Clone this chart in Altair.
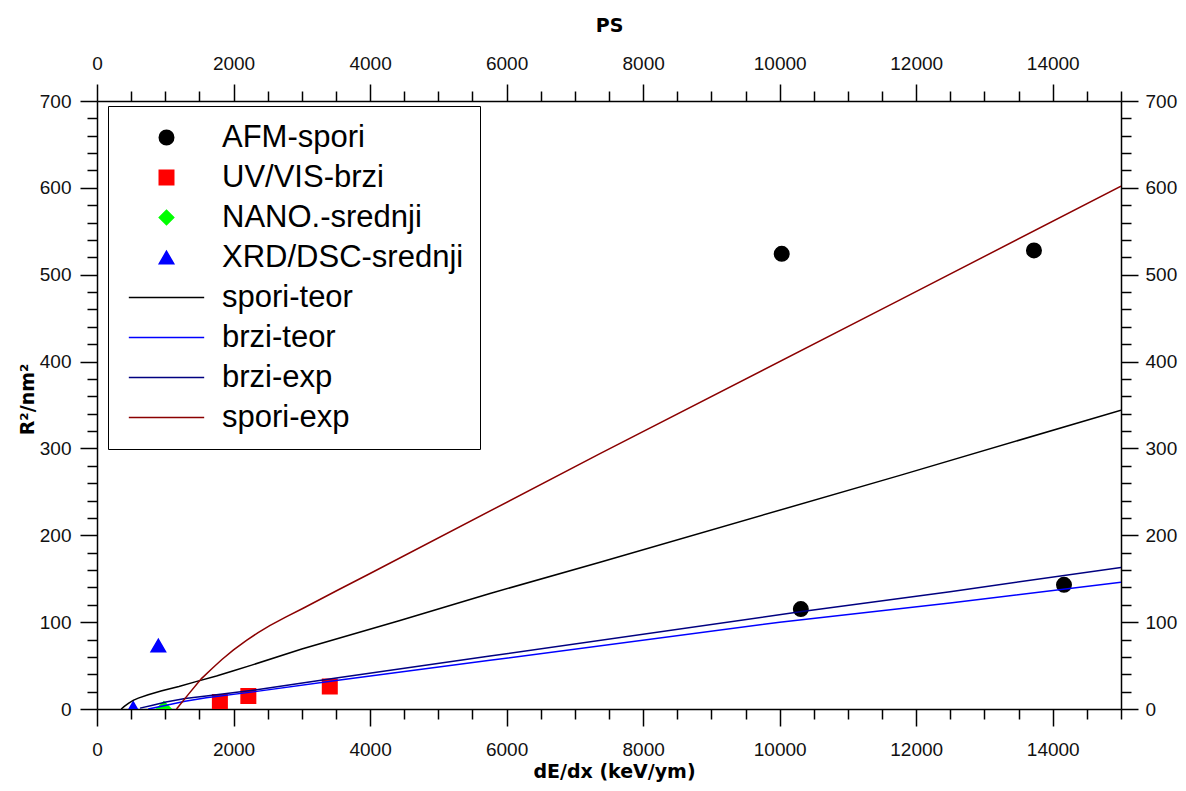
import altair as alt
import pandas as pd

# ---------------- data ----------------
series_names = ["AFM-spori", "UV/VIS-brzi", "NANO.-srednji", "XRD/DSC-srednji",
                "spori-teor", "brzi-teor", "brzi-exp", "spori-exp"]
series_colors = ["#000000", "#ff0000", "#00ff00", "#0000ff",
                 "#000000", "#0000ff", "#000080", "#8b0000"]
line_path = "M-5.2,0H5.2"
series_shapes = ["circle", "square", "diamond", "triangle-up",
                 line_path, line_path, line_path, line_path]

afm_x = [10030, 13725, 10310, 14165]
afm_y = [524, 528, 115, 143]
uv_x = [1800, 2217, 3410]
uv_y = [8, 15, 26]
nano_x = [980]
nano_y = [0]
xrd_x = [898, 530]
xrd_y = [73, 1]

spori_teor_x = [355, 400, 460, 530, 605, 750, 950, 1200, 1450, 1750, 2000, 2266,
                3000, 4438, 5757, 7368, 11762, 15000]
spori_teor_y = [0, 3, 6.5, 10, 12.5, 16.5, 21, 26, 31.5, 38, 44, 50.5,
                69, 102, 133, 169, 269, 344]

brzi_teor_x = [750, 1000, 1290, 1600, 2314, 3530, 5757, 10000, 12496, 15000]
brzi_teor_y = [0, 4, 9, 13, 20, 33, 56, 100, 122, 146]

brzi_exp_x = [630, 800, 1010, 1290, 1600, 2314, 3530, 5757, 10300, 12496, 15000]
brzi_exp_y = [1, 4, 8, 12, 15, 22, 36, 61, 112, 135, 163]

spori_exp_x = [1165, 1350, 1530, 1690, 1830, 2000, 2190, 2360, 2530, 2770, 3020,
               3530, 4000, 7368, 11762, 15000]
spori_exp_y = [0, 18, 35, 47, 57, 68, 79, 88, 96, 106, 116,
               137, 156, 294, 471, 602]

# ---------------- tables ----------------
def rows(name, xs, ys):
    return [{"series": name, "x": x, "y": y, "order": i} for i, (x, y) in enumerate(zip(xs, ys))]

pts_rows = (rows("AFM-spori", afm_x, afm_y) + rows("UV/VIS-brzi", uv_x, uv_y)
            + rows("NANO.-srednji", nano_x, nano_y) + rows("XRD/DSC-srednji", xrd_x, xrd_y))
line_rows = (rows("spori-teor", spori_teor_x, spori_teor_y) + rows("brzi-teor", brzi_teor_x, brzi_teor_y)
             + rows("brzi-exp", brzi_exp_x, brzi_exp_y) + rows("spori-exp", spori_exp_x, spori_exp_y))
df_pts = pd.DataFrame(pts_rows)
df_lines = pd.DataFrame(line_rows)

# ---------------- scales / axes ----------------
xscale = alt.Scale(domain=[0, 15000], nice=False, zero=False)
yscale = alt.Scale(domain=[0, 700], nice=False, zero=False)
fill_scale = alt.Scale(domain=series_names, range=series_colors)
stroke_scale = alt.Scale(domain=series_names, range=series_colors)
shape_scale = alt.Scale(domain=series_names, range=series_shapes)

xvals = list(range(0, 15001, 500))
yvals = list(range(0, 701, 20))
xmajor = "datum.value % 2000 === 0"
ymajor = "datum.value % 100 === 0"

common = dict(domainColor="black", domainWidth=1.5, tickColor="black", tickWidth=1.5,
              labelFont="Liberation Sans", labelFontSize=19, labelColor="#111111",
              labelOverlap=False, labelFlush=False, grid=False, format="d",
              titleFont="DejaVu Sans", titleFontSize=19, titleFontWeight="bold",
              titleColor="black")

bottom_axis = alt.Axis(orient="bottom", values=xvals,
                       labelExpr=f"{xmajor} ? datum.label : ''",
                       tickSize={"condition": {"test": xmajor, "value": 17}, "value": 10},
                       labelPadding=14, title="dE/dx (keV/ym)",
                       titleY=62, titleX=517, titleBaseline="middle", **common)
top_axis = alt.Axis(orient="top", values=xvals,
                    labelExpr=f"{xmajor} ? datum.label : ''",
                    tickSize={"condition": {"test": xmajor, "value": 17}, "value": 10},
                    labelPadding=11, title="PS",
                    titleY=-76, titleBaseline="middle", **common)
left_axis = alt.Axis(orient="left", values=yvals,
                     labelExpr=f"{ymajor} ? datum.label : ''",
                     tickSize={"condition": {"test": ymajor, "value": 17}, "value": 10},
                     labelPadding=9, title="R²/nm²",
                     titleX=-70, titleY=298, titleBaseline="middle", **common)
right_axis = alt.Axis(orient="right", values=yvals,
                      labelExpr=f"{ymajor} ? datum.label : ''",
                      tickSize={"condition": {"test": ymajor, "value": 17}, "value": 10},
                      labelPadding=7, title=None, **common)

leg = alt.Legend(orient="none", legendX=11, legendY=5, title=None, padding=16,
                 strokeColor="black", fillColor="white", symbolSize=210,
                 symbolOffset=27, labelOffset=40, labelFont="Liberation Sans",
                 labelFontSize=31, labelColor="black", labelLimit=500, rowPadding=8,
                 symbolStrokeWidth=1.5)

points = alt.Chart(df_pts).mark_point(filled=True, opacity=1, size=210, strokeWidth=1.5, clip=True).encode(
    x=alt.X("x:Q", scale=xscale, axis=top_axis),
    y=alt.Y("y:Q", scale=yscale, axis=right_axis),
    fill=alt.Fill("series:N", scale=fill_scale, legend=leg),
    stroke=alt.Stroke("series:N", scale=stroke_scale, legend=leg),
    shape=alt.Shape("series:N", scale=shape_scale, legend=leg),
)

lines = alt.Chart(df_lines).mark_line(strokeWidth=1.5, clip=True).encode(
    x=alt.X("x:Q", scale=xscale, axis=bottom_axis),
    y=alt.Y("y:Q", scale=yscale, axis=left_axis),
    stroke=alt.Stroke("series:N", scale=stroke_scale, legend=leg),
    order=alt.Order("order:Q"),
)

chart = alt.layer(points, lines).resolve_axis(
    x="independent", y="independent"
).properties(
    width=1024, height=608,
    autosize=alt.AutoSizeParams(type="none"),
    padding={"left": 89, "top": 93, "right": 57, "bottom": 74},
    background="white",
).configure_view(stroke=None)

chart.save("out.html", embed_options={"renderer": "svg", "actions": False})
